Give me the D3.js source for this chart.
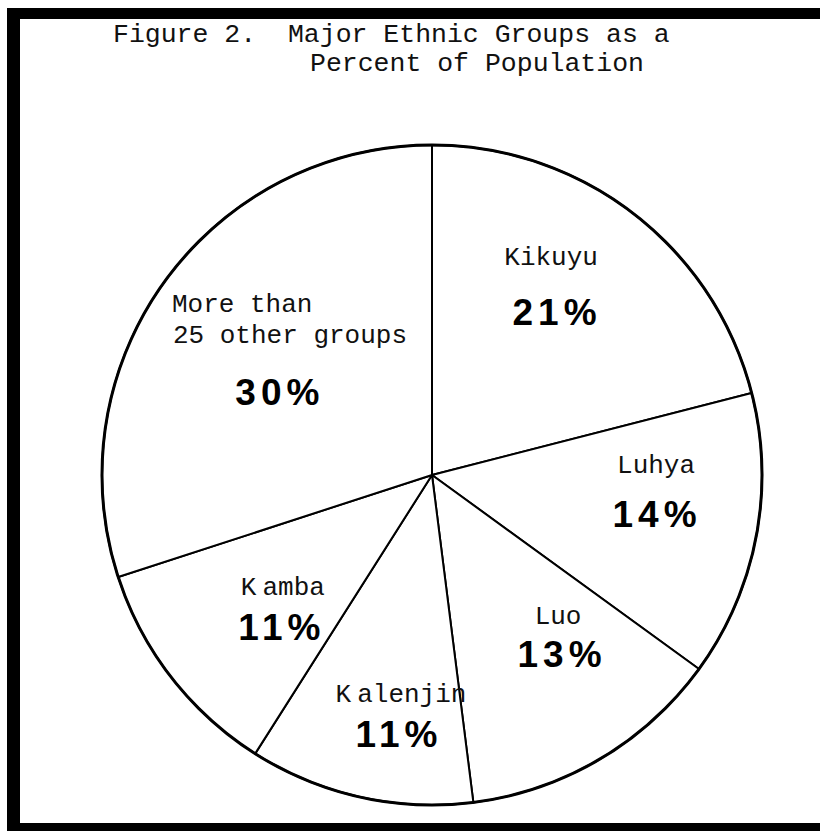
<!DOCTYPE html>
<html>
<head>
<meta charset="utf-8">
<script src="https://cdn.jsdelivr.net/npm/d3@7"></script>
<style>
  html, body { margin: 0; padding: 0; background: #fff; }
  svg { display: block; }
</style>
</head>
<body>
<svg id="chart" width="820" height="831"></svg>
<script>
// ---- data ----
const groups = ["Kikuyu", "Luhya", "Luo", "Kalenjin", "Kamba", "More than 25 other groups"];
const percents = [21, 14, 13, 11, 11, 30];
const percentLabels = ["21%", "14%", "13%", "11%", "11%", "30%"];
const titleLines = ["Figure 2.  Major Ethnic Groups as a", "Percent of Population"];

// ---- layout ----
const W = 820, H = 831;
const cx = 432, cy = 475, R = 330;
const mono = "'Liberation Mono', 'DejaVu Sans Mono', monospace";
const sans = "'Liberation Sans', Arial, sans-serif";

const svg = d3.select("#chart");
svg.append("rect").attr("width", W).attr("height", H).attr("fill", "#fff");

// frame (thick scanned border: top, left, bottom)
const frame = svg.append("g").attr("fill", "#000");
frame.append("rect").attr("x", 7).attr("y", 8).attr("width", W - 7).attr("height", 11);
frame.append("rect").attr("x", 7).attr("y", 8).attr("width", 13).attr("height", H - 8);
frame.append("rect").attr("x", 7).attr("y", 823).attr("width", W - 7).attr("height", 8);

// title
const title = svg.append("g").attr("font-family", mono).attr("font-size", 26.5).attr("fill", "#111");
title.append("text").attr("x", 113).attr("y", 42).attr("xml:space", "preserve").text(titleLines[0]);
title.append("text").attr("x", 310).attr("y", 71).text(titleLines[1]);

// pie
const pie = d3.pie().sort(null).value(d => d).startAngle(0).endAngle(2 * Math.PI);
const arcs = pie(percents);
const arc = d3.arc().innerRadius(0).outerRadius(R);
const g = svg.append("g").attr("transform", `translate(${cx},${cy})`);

g.selectAll("path.slice").data(arcs).join("path")
  .attr("class", "slice")
  .attr("d", arc)
  .attr("fill", "#fff")
  .attr("stroke", "#000")
  .attr("stroke-width", 2)
  .attr("stroke-linejoin", "round");

// thicker outline
g.append("circle").attr("r", R).attr("fill", "none").attr("stroke", "#000").attr("stroke-width", 3);

// labels (positions relative to the pie radius)
const labelPos = [
  { name: [[0.361, -0.636]], pct: [0.379, -0.455] },
  { name: [[0.679, -0.006]], pct: [0.682, 0.158] },
  { name: [[0.382, 0.452]], pct: [0.394, 0.582] },
  { name: [[-0.094, 0.688]], pct: [-0.100, 0.824] },
  { name: [[-0.452, 0.364]], pct: [-0.455, 0.500] },
  { name: [[-0.788, -0.494], [-0.785, -0.400]], pct: [-0.461, -0.212], left: true }
];
const nameLines = [["Kikuyu"], ["Luhya"], ["Luo"], ["Kalenjin"], ["Kamba"], ["More than", "25 other groups"]];

arcs.forEach((a, i) => {
  const lp = labelPos[i];
  nameLines[i].forEach((line, j) => {
    const t = g.append("text")
      .attr("x", lp.name[j][0] * R)
      .attr("y", lp.name[j][1] * R)
      .attr("font-family", mono)
      .attr("font-size", 26)
      .attr("fill", "#111")
      .attr("text-anchor", lp.left ? "start" : "middle");
    if (line === "Kamba" || line === "Kalenjin") {
      // typewriter gap after the capital K, as in the scan
      t.append("tspan").text(line[0]);
      t.append("tspan").attr("dx", 6).text(line.slice(1));
    } else {
      t.text(line);
    }
  });
  g.append("text")
    .attr("x", lp.pct[0] * R)
    .attr("y", lp.pct[1] * R)
    .attr("font-family", sans)
    .attr("font-weight", "bold")
    .attr("font-size", 37)
    .attr("letter-spacing", 5)
    .attr("text-anchor", "middle")
    .attr("fill", "#000")
    .text(percentLabels[i]);
});
</script>
</body>
</html>
